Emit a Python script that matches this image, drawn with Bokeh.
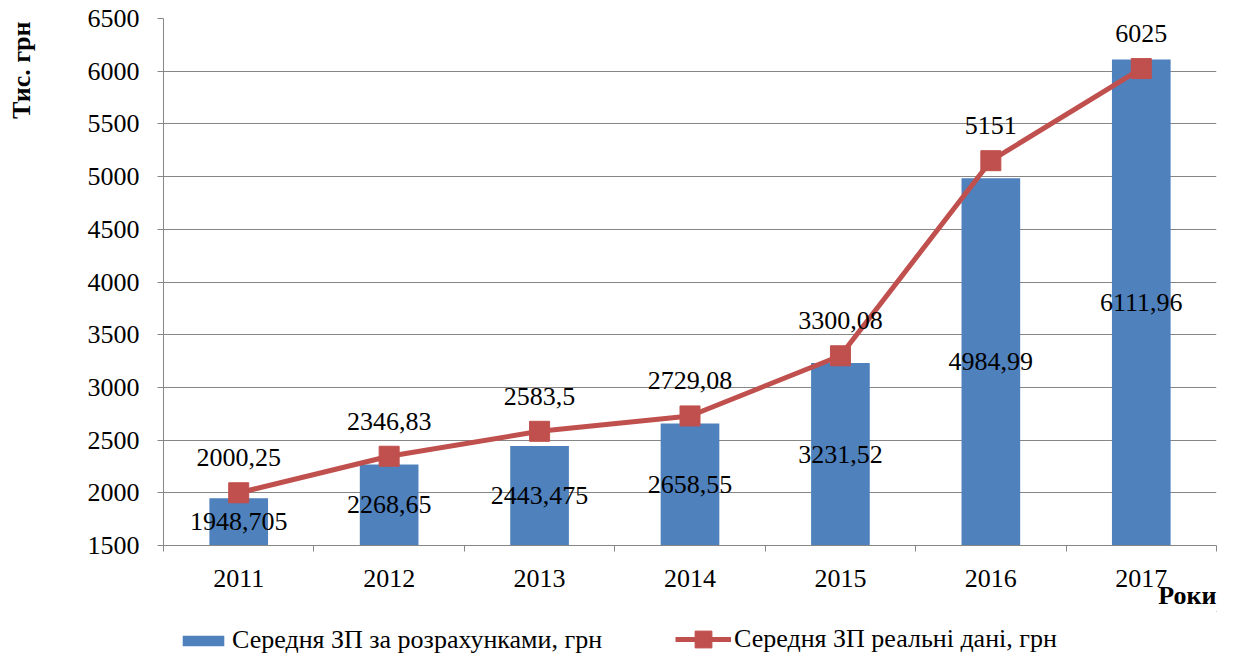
import math
from bokeh.plotting import figure
from bokeh.layouts import column, row
from bokeh.models import (ColumnDataSource, FixedTicker, SingleIntervalTicker,
                          Legend, LegendItem, Title, Range1d)
from bokeh.core.properties import value
from bokeh.embed import file_html
from bokeh.resources import INLINE

years = ["2011", "2012", "2013", "2014", "2015", "2016", "2017"]
calc = [1948.705, 2268.65, 2443.475, 2658.55, 3231.52, 4984.99, 6111.96]
real = [2000.25, 2346.83, 2583.5, 2729.08, 3300.08, 5151, 6025]
y_min, y_max, y_step = 1500, 6500, 500
calc_name = "Середня ЗП за розрахунками, грн"
real_name = "Середня ЗП реальні дані, грн"
y_title = "Тис. грн"
x_title = "Роки"

FONT = "Liberation Serif"
FS = "26px"
GRAY = "#868686"
BLUE = "#4F81BD"
RED = "#C0504D"

def fmt(v):
    return str(v).replace(".", ",")

xs = [i + 0.5 for i in range(len(years))]
src = ColumnDataSource(dict(
    x=xs,
    calc=calc,
    real=real,
    calc_mid=[(v + y_min) / 2 for v in calc],
    calc_lbl=[fmt(v) for v in calc],
    real_lbl=[fmt(v) for v in real],
))

TW = 42  # width of the strip holding the y title

# ---- main chart ----
p = figure(width=1218 - TW, height=611, x_range=(0, len(years)),
           y_range=(y_min, y_max), output_backend="svg", toolbar_location=None,
           min_border_left=163 - TW, min_border_right=2, min_border_top=18,
           min_border_bottom=66)
p.outline_line_color = None
p.background_fill_color = "white"
p.xgrid.visible = False
p.ygrid.grid_line_color = GRAY
p.ygrid.grid_line_width = 1

p.yaxis.ticker = SingleIntervalTicker(interval=y_step)
p.yaxis.axis_line_color = GRAY
p.yaxis.major_tick_line_color = GRAY
p.yaxis.major_tick_out = 6
p.yaxis.major_tick_in = 0
p.yaxis.minor_tick_line_color = None
p.yaxis.major_label_standoff = 18
p.yaxis.major_label_text_font = FONT
p.yaxis.major_label_text_font_size = FS
p.yaxis.major_label_text_color = "black"

# x axis: labels at category centers, ticks at category boundaries
p.xaxis.ticker = FixedTicker(ticks=xs, minor_ticks=list(range(len(years) + 1)))
p.xaxis.major_label_overrides = {x: y for x, y in zip(xs, years)}
p.xaxis.axis_line_color = GRAY
p.xaxis.major_tick_line_color = None
p.xaxis.major_tick_out = 0
p.xaxis.major_tick_in = 0
p.xaxis.minor_tick_line_color = GRAY
p.xaxis.minor_tick_out = 6
p.xaxis.minor_tick_in = 0
p.xaxis.major_label_standoff = 18
p.xaxis.major_label_text_font = FONT
p.xaxis.major_label_text_font_size = FS
p.xaxis.major_label_text_color = "black"

p.add_layout(Title(text=x_title, align="right", standoff=-22, offset=0,
                   text_font=FONT, text_font_size=FS, text_font_style="bold",
                   text_color="black"), "below")

p.vbar(x="x", top="calc", bottom=y_min, width=0.39, source=src,
       fill_color=BLUE, line_color=None)
p.line(x="x", y="real", source=src, line_color=RED, line_width=5)
p.scatter(x="x", y="real", source=src, marker="square", size=20,
          fill_color=RED, line_color=RED)

p.text(x="x", y="calc_mid", text="calc_lbl", source=src, text_align="center",
       text_baseline="middle", text_font=value(FONT), text_font_size=FS,
       text_color="black")
p.text(x="x", y="real", text="real_lbl", source=src, text_align="center",
       text_baseline="middle", y_offset=-35, text_font=value(FONT),
       text_font_size=FS, text_color="black")

# ---- y title strip ----
tf = figure(width=TW, height=655, x_range=Range1d(0, 1), y_range=Range1d(0, 1),
            output_backend="svg", toolbar_location=None,
            x_axis_type=None, y_axis_type=None,
            min_border_left=0, min_border_right=0, min_border_top=0,
            min_border_bottom=0)
tf.outline_line_color = None
tf.xgrid.visible = False
tf.ygrid.visible = False
tf.text(x=[0.5], y=[1], text=[y_title], angle=math.pi / 2, y_offset=21,
        text_align="right", text_baseline="middle", text_font=value(FONT),
        text_font_size=FS, text_font_style="bold", text_color="black")

# ---- legend strip (series drawn entirely outside its view) ----
lf = figure(width=1218 - TW, height=44, x_range=Range1d(-2, -1),
            y_range=Range1d(0, 1), output_backend="svg", toolbar_location=None,
            x_axis_type=None, y_axis_type=None,
            min_border_left=163 - TW, min_border_right=2, min_border_top=0,
            min_border_bottom=0)
lf.outline_line_color = None
lf.xgrid.visible = False
lf.ygrid.visible = False
lbars = lf.vbar(x="x", top="calc", bottom=y_min, width=0.39, source=src,
                fill_color=BLUE, line_color=None)
lline = lf.line(x="x", y="real", source=src, line_color=RED, line_width=5)
lpts = lf.scatter(x="x", y="real", source=src, marker="square", size=20,
                  fill_color=RED, line_color=RED)

common = dict(orientation="horizontal", label_standoff=3, label_height=26,
              padding=0, margin=0, border_line_color=None,
              background_fill_alpha=0, label_text_font=FONT,
              label_text_font_size=FS, label_text_color="black")
leg1 = Legend(items=[LegendItem(label=calc_name, renderers=[lbars])],
              location=(14, 0), glyph_width=52, glyph_height=13, **common)
leg2 = Legend(items=[LegendItem(label=real_name, renderers=[lline, lpts])],
              location=(512, -5), glyph_width=56, glyph_height=42, **common)
lf.add_layout(leg1)
lf.add_layout(leg2)

layout = row(tf, column(p, lf, spacing=0), spacing=0)
open("out.html", "w").write(file_html(layout, INLINE))
